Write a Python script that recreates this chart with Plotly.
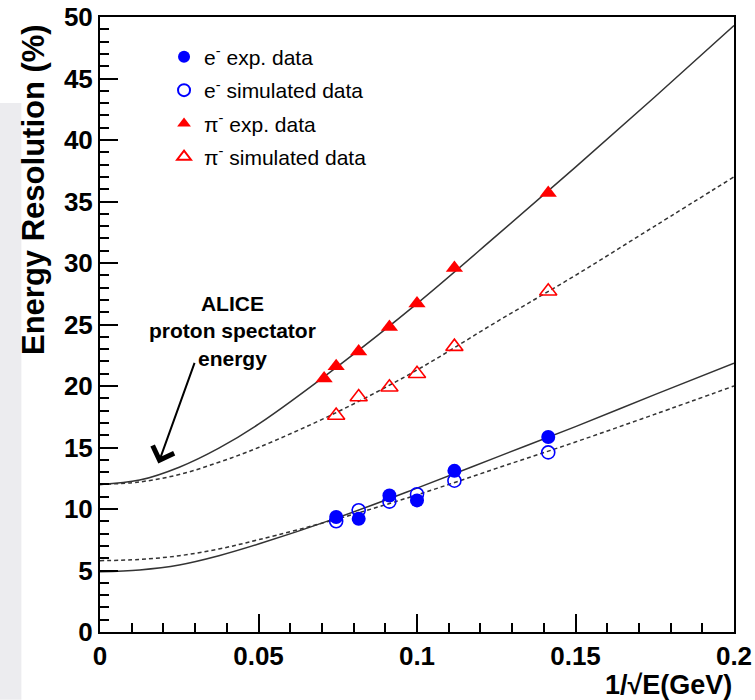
import plotly.graph_objects as go

# ---- data ----
fit_x = [0, 0.0125, 0.025, 0.0375, 0.05, 0.075, 0.1, 0.125, 0.15, 0.175, 0.2]
pi_exp_fit = [12.0, 12.35, 13.4, 14.95, 16.9, 21.6, 26.7, 32.2, 37.8, 43.5, 49.3]
pi_sim_fit = [12.0, 12.2, 12.8, 13.8, 15.0, 17.9, 21.3, 25.2, 29.0, 33.0, 37.0]
e_exp_fit = [4.9, 5.05, 5.45, 6.2, 7.15, 9.3, 11.7, 14.2, 16.7, 19.3, 21.85]
e_sim_fit = [5.8, 5.9, 6.2, 6.75, 7.5, 9.2, 11.15, 13.3, 15.45, 17.7, 20.0]

e_x = [0.0745, 0.0816, 0.0913, 0.1, 0.1118, 0.1414]
e_exp = [9.35, 9.2, 11.1, 10.7, 13.1, 15.85]
e_sim = [9.0, 9.9, 10.6, 11.2, 12.3, 14.6]

pi_exp_x = [0.0707, 0.0745, 0.0816, 0.0913, 0.1, 0.1118, 0.1414]
pi_exp = [20.6, 21.6, 22.8, 24.8, 26.7, 29.6, 35.7]
pi_sim_x = [0.0745, 0.0816, 0.0913, 0.1, 0.1118, 0.1414]
pi_sim = [17.6, 19.1, 19.9, 21.0, 23.2, 27.7]

FONT = "Liberation Sans, Arial, Helvetica, sans-serif"
LINE_C = "#333333"
BLUE = "#0000ff"
RED = "#ff0000"

fig = go.Figure()

# fit curves
for ys, dash in [(pi_exp_fit, "solid"), (pi_sim_fit, "4px,3px"),
                 (e_exp_fit, "solid"), (e_sim_fit, "4px,3px")]:
    fig.add_trace(go.Scatter(x=fit_x, y=ys, mode="lines", showlegend=False,
                             line=dict(color=LINE_C, width=1.5, dash=dash, shape="spline"),
                             hoverinfo="skip"))

# data points
fig.add_trace(go.Scatter(x=e_x, y=e_exp, mode="markers", name="e<sup>-</sup> exp. data",
                         legendgroup="a",
                         marker=dict(symbol="circle", size=14, color=BLUE, line=dict(width=0))))
fig.add_trace(go.Scatter(x=e_x, y=e_sim, mode="markers", name="e<sup>-</sup> simulated data",
                         legendgroup="b",
                         marker=dict(symbol="circle-open", size=13, color=BLUE, line=dict(width=1.6))))
fig.add_trace(go.Scatter(x=pi_exp_x, y=pi_exp, mode="markers", name="π<sup>-</sup> exp. data",
                         legendgroup="c",
                         marker=dict(symbol="triangle-up", size=15, color=RED, line=dict(width=0))))
fig.add_trace(go.Scatter(x=pi_sim_x, y=pi_sim, mode="markers", name="π<sup>-</sup> simulated data",
                         legendgroup="d",
                         marker=dict(symbol="triangle-up-open", size=15, color=RED, line=dict(width=1.6))))

# text annotation and arrow
fig.add_annotation(x=0.0417, y=24.5, xref="x", yref="y",
                   text="<b>ALICE<br>proton spectator<br>energy</b>",
                   showarrow=False, align="center",
                   font=dict(family=FONT, size=21, color="black"))
fig.add_annotation(x=0.0184, y=13.7, xref="x", yref="y",
                   ax=0.030, ay=22.0, axref="x", ayref="y",
                   text="", showarrow=True, arrowhead=4, arrowsize=2.2,
                   arrowwidth=2, arrowcolor="black")

# axis titles
fig.add_annotation(x=1.0, y=-0.086, xref="paper", yref="paper",
                   xanchor="right", yanchor="middle",
                   text="<b>1/√E(GeV)</b>", showarrow=False,
                   font=dict(family=FONT, size=27, color="black"))
fig.add_annotation(x=-0.106, y=0.72, xref="paper", yref="paper",
                   xanchor="center", yanchor="middle", textangle=-90,
                   text="<b>Energy Resolution (%)</b>", showarrow=False,
                   font=dict(family=FONT, size=31, color="black"))

# light grey strip on left margin (background photo remnant)
fig.add_shape(type="rect", xref="paper", yref="paper",
              x0=-0.158, x1=-0.124, y0=-0.11, y1=0.86,
              fillcolor="#ececef", line=dict(width=0), layer="below")

fig.update_layout(
    width=755, height=700,
    margin=dict(l=100, r=21, t=17, b=68, autoexpand=False),
    paper_bgcolor="white", plot_bgcolor="white",
    font=dict(family=FONT, color="black"),
    showlegend=True,
    legend=dict(x=0.101, y=0.968, xanchor="left", yanchor="top",
                bgcolor="rgba(0,0,0,0)", borderwidth=0,
                font=dict(family=FONT, size=21, color="black"),
                tracegroupgap=3, itemsizing="constant"),
    xaxis=dict(range=[0, 0.2], dtick=0.05, tick0=0, ticks="inside", ticklen=18,
               tickwidth=1.5, tickcolor="black", automargin=False,
               ticklabeloverflow="allow",
               minor=dict(dtick=0.01, ticks="inside", ticklen=9, tickwidth=1.5, tickcolor="black"),
               showgrid=False, zeroline=False, showline=True, linecolor="black",
               linewidth=2, mirror=True,
               tickfont=dict(family=FONT, size=26, color="black", weight="bold")),
    yaxis=dict(range=[0, 50], dtick=5, tick0=0, ticks="inside", ticklen=18,
               tickwidth=1.5, tickcolor="black", automargin=False,
               ticklabeloverflow="allow",
               minor=dict(dtick=1, ticks="inside", ticklen=9, tickwidth=1.5, tickcolor="black"),
               showgrid=False, zeroline=False, showline=True, linecolor="black",
               linewidth=2, mirror=True,
               tickfont=dict(family=FONT, size=26, color="black", weight="bold")),
)

fig.write_html("out.html", config={"displayModeBar": False},
               post_script="document.body.style.margin='0px';")
